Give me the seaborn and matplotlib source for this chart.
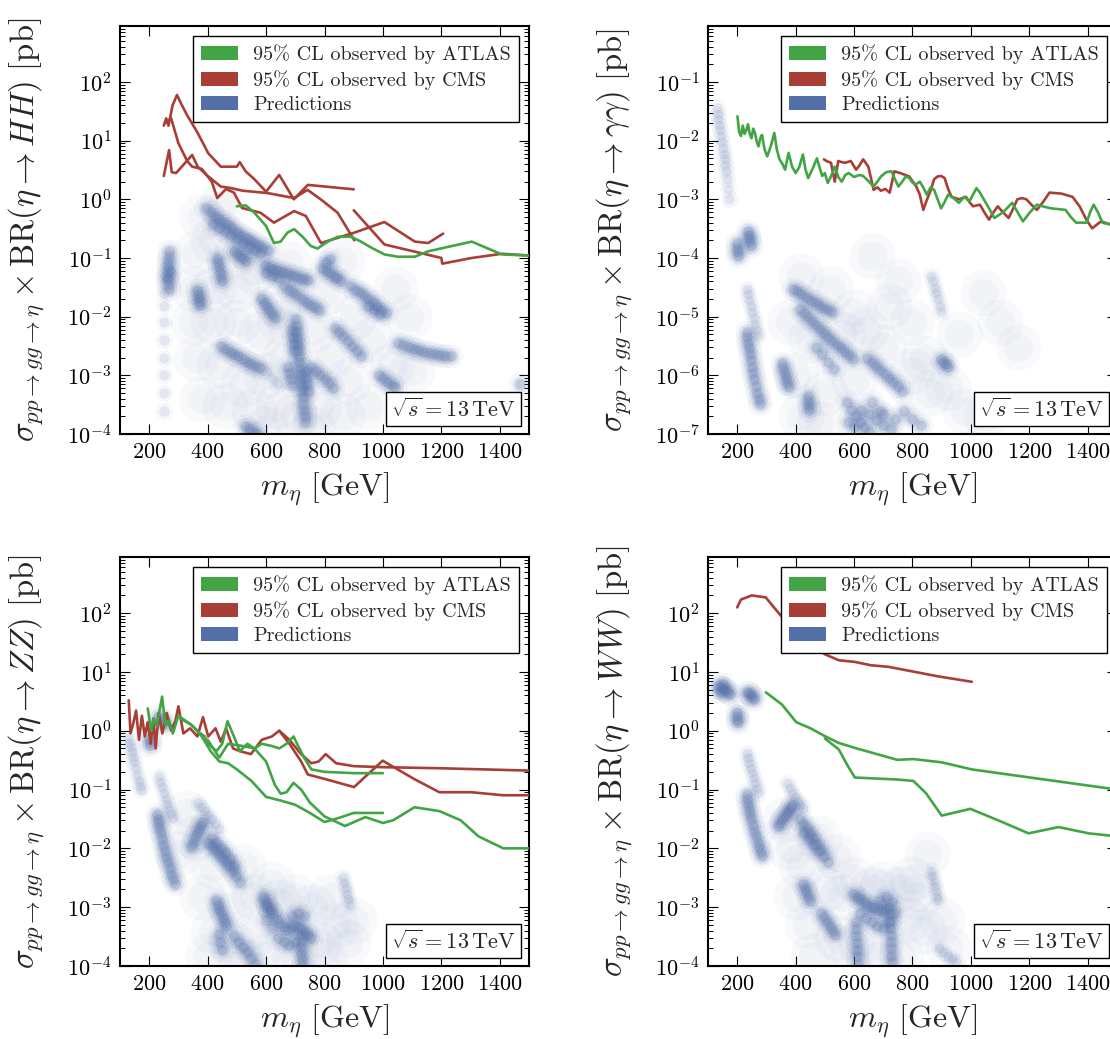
import matplotlib
matplotlib.use("Agg")
import matplotlib.pyplot as plt
import pandas as pd
import seaborn as sns
from matplotlib.patches import Patch
from matplotlib.ticker import LogLocator, NullFormatter, FixedLocator, NullLocator
from matplotlib.offsetbox import AnchoredText

# ---------------------------------------------------------------- observed limits
# 95% CL observed limits, (m_eta [GeV], sigma x BR [pb])
HH_ATLAS = [(500, 0.76), (530, 0.79), (540, 0.72), (560, 0.59), (600, 0.35), (627, 0.18),
            (650, 0.19), (673, 0.27), (696, 0.31), (725, 0.23), (753, 0.16), (776, 0.145),
            (811, 0.19), (845, 0.23), (891, 0.23), (925, 0.19), (960, 0.15), (1005, 0.115),
            (1051, 0.105), (1109, 0.105), (1155, 0.13), (1304, 0.19), (1407, 0.115), (1500, 0.11)]
HH_CMS_A = [(250, 18), (258, 24), (266, 18), (280, 40), (295, 60), (310, 42), (330, 27),
            (366, 13.5), (402, 6.1), (445, 3.6), (500, 3.6), (510, 4.3), (530, 3.0), (560, 2.2),
            (600, 1.35), (645, 2.6), (695, 1.0), (743, 1.76), (900, 1.48)]
HH_CMS_B = [(255, 20), (275, 24), (300, 9), (330, 4.5), (347, 3.6), (380, 3.3), (414, 2.0),
            (433, 1.05), (463, 1.5), (490, 1.3), (518, 0.71), (581, 0.59), (627, 0.40),
            (696, 0.63), (736, 0.52), (788, 0.18), (902, 0.27), (1005, 0.41), (1109, 0.19),
            (1155, 0.18), (1206, 0.26)]
HH_CMS_C = [(250, 2.5), (268, 6.9), (277, 2.9), (292, 2.8), (347, 5.7), (366, 3.6),
            (400, 2.5), (445, 1.65), (478, 1.56), (520, 1.4), (604, 1.28), (696, 1.05),
            (742, 1.45), (788, 0.99), (845, 0.59), (902, 0.2)]
HH_CMS_D = [(900, 0.65), (1005, 0.17), (1200, 0.10), (1203, 0.08), (1304, 0.10),
            (1407, 0.118), (1500, 0.11)]

AA_ATLAS = [(201, 2.6e-2), (207, 1.4e-2), (213, 1.2e-2), (219, 1.8e-2), (225, 1.3e-2),
            (231, 1.5e-2), (237, 1.9e-2), (243, 1.3e-2), (249, 1.1e-2), (255, 1.6e-2),
            (261, 1.35e-2), (267, 9.5e-3), (273, 8e-3), (279, 1.1e-2), (285, 1.25e-2),
            (294, 7e-3), (303, 5.4e-3), (315, 8e-3), (327, 1.35e-2), (336, 7e-3),
            (345, 4.8e-3), (355, 4e-3), (364, 3.2e-3), (370, 4.5e-3), (376, 6.2e-3),
            (388, 3.6e-3), (400, 2.8e-3), (412, 3.5e-3), (425, 5.8e-3), (434, 3.2e-3),
            (443, 2.3e-3), (458, 3.3e-3), (473, 5e-3), (482, 3.5e-3), (491, 2.5e-3),
            (500, 2.8e-3), (510, 1.9e-3), (522, 2.5e-3), (534, 3.6e-3), (546, 2.4e-3),
            (558, 2e-3), (570, 2.6e-3), (582, 2.8e-3), (600, 2.4e-3), (619, 2.6e-3),
            (631, 2.5e-3), (643, 2.2e-3), (655, 1.9e-3), (667, 1.65e-3), (680, 2e-3),
            (692, 2.45e-3), (710, 2.9e-3), (728, 3e-3), (740, 2.2e-3), (752, 1.65e-3),
            (765, 2e-3), (777, 2.45e-3), (789, 2.3e-3), (801, 1.9e-3), (813, 1.8e-3),
            (825, 2e-3), (837, 1.6e-3), (849, 1.2e-3), (862, 1.6e-3), (874, 1.45e-3),
            (886, 1e-3), (898, 7e-4), (910, 9e-4), (922, 1.2e-3), (940, 1.05e-3),
            (959, 8.7e-4), (977, 1.1e-3), (995, 9.3e-4), (1007, 1.2e-3), (1019, 1.55e-3),
            (1031, 1.3e-3), (1044, 1e-3), (1062, 7e-4), (1080, 4.8e-4), (1110, 6e-4),
            (1141, 8.7e-4), (1160, 6e-4), (1178, 4.2e-4), (1202, 6e-4), (1226, 8.1e-4),
            (1250, 7.5e-4), (1275, 7e-4), (1300, 6.8e-4), (1324, 6.6e-4), (1342, 5e-4),
            (1360, 4e-4), (1396, 4e-4), (1408, 6e-4), (1420, 8.1e-4), (1435, 6e-4),
            (1450, 4e-4), (1480, 3.7e-4), (1500, 3.6e-4)]
AA_CMS = [(497, 4.8e-3), (509, 4.4e-3), (521, 4.2e-3), (534, 2e-3), (546, 4.5e-3),
          (558, 4.3e-3), (570, 4.2e-3), (589, 4.5e-3), (607, 3.2e-3), (619, 3.8e-3),
          (631, 4.8e-3), (649, 3.6e-3), (667, 1.45e-3), (680, 1.6e-3), (692, 1.4e-3),
          (707, 1.5e-3), (722, 1.3e-3), (738, 3e-3), (758, 2.8e-3), (789, 2.45e-3),
          (813, 1.65e-3), (825, 1.2e-3), (837, 6.6e-4), (850, 1e-3), (862, 1.4e-3),
          (874, 2.2e-3), (886, 2.45e-3), (898, 2.5e-3), (910, 2.3e-3), (922, 1.5e-3),
          (934, 1.1e-3), (959, 1e-3), (983, 1.1e-3), (995, 9e-4), (1007, 7.6e-4),
          (1031, 8.1e-4), (1046, 6e-4), (1062, 4.5e-4), (1077, 6e-4), (1092, 7.6e-4),
          (1110, 6e-4), (1129, 4.8e-4), (1145, 7e-4), (1159, 1e-3), (1175, 1.05e-3),
          (1190, 1e-3), (1208, 8e-4), (1226, 6.6e-4), (1247, 9e-4), (1269, 1.3e-3),
          (1310, 1.25e-3), (1348, 1.1e-3), (1372, 7.6e-4), (1395, 4.5e-4), (1415, 3.2e-4),
          (1445, 4.2e-4), (1480, 3.7e-4), (1500, 3.5e-4)]

ZZ_ATLAS_A = [(195, 2.4), (207, 1.0), (215, 1.6), (226, 1.2), (244, 3.8), (256, 1.2),
              (268, 1.5), (281, 0.9), (300, 1.8), (317, 1.5), (340, 1.3), (366, 0.98),
              (390, 0.8), (402, 0.6), (430, 0.45), (450, 0.6), (468, 1.45), (490, 0.8),
              (510, 0.45), (536, 0.6), (560, 0.5), (585, 0.6), (620, 0.55), (645, 0.5),
              (670, 0.6), (694, 0.8), (706, 0.6), (730, 0.35), (755, 0.22), (800, 0.2),
              (900, 0.19), (1000, 0.19)]
ZZ_ATLAS_B = [(300, 1.8), (350, 1.2), (380, 0.8), (410, 0.45), (440, 0.3), (470, 0.28),
              (500, 0.22), (550, 0.14), (600, 0.075), (650, 0.065), (700, 0.055),
              (750, 0.04), (800, 0.028), (850, 0.033), (900, 0.04), (1000, 0.04)]
ZZ_ATLAS_C = [(400, 0.7), (440, 0.35), (470, 0.6), (520, 0.55), (560, 0.5), (600, 0.3),
              (630, 0.12), (650, 0.085), (670, 0.09), (694, 0.13), (720, 0.1), (750, 0.06),
              (800, 0.035), (870, 0.024), (940, 0.034), (1000, 0.027), (1035, 0.03),
              (1108, 0.05), (1193, 0.043), (1266, 0.03), (1327, 0.016), (1412, 0.01), (1500, 0.01)]
ZZ_CMS_A = [(130, 3.3), (136, 0.9), (145, 1.3), (155, 2.2), (165, 0.7), (175, 1.8),
            (185, 0.8), (195, 1.4), (205, 0.6), (214, 1.6), (222, 0.5), (232, 2.0),
            (245, 0.9), (260, 2.0), (275, 1.0), (290, 1.5), (300, 2.6), (317, 0.9),
            (340, 1.1), (365, 0.8), (384, 1.7), (402, 0.8), (427, 1.1), (445, 0.65),
            (463, 1.1), (487, 0.5), (510, 0.45), (548, 0.4), (585, 0.7), (620, 0.8),
            (645, 1.0), (680, 0.6), (720, 0.3), (743, 0.18), (804, 0.15), (901, 0.11),
            (999, 0.31), (1108, 0.15), (1193, 0.09), (1302, 0.09), (1412, 0.08), (1500, 0.08)]
ZZ_CMS_B = [(645, 1.0), (680, 0.7), (720, 0.4), (755, 0.28), (780, 0.3), (804, 0.4),
            (840, 0.28), (900, 0.25), (1000, 0.24), (1200, 0.23), (1500, 0.21)]

WW_ATLAS_A = [(298, 4.5), (353, 2.8), (402, 1.4), (451, 1.1), (500, 0.81), (548, 0.62),
              (603, 0.51), (748, 0.32), (803, 0.33), (900, 0.29), (1003, 0.22), (1203, 0.16),
              (1500, 0.1)]
WW_ATLAS_B = [(500, 0.74), (548, 0.48), (579, 0.25), (603, 0.16), (748, 0.148), (803, 0.14),
              (846, 0.087), (900, 0.036), (998, 0.047), (1100, 0.029), (1197, 0.018),
              (1300, 0.023), (1403, 0.018), (1500, 0.016)]
WW_CMS = [(200, 125), (213, 170), (250, 200), (298, 185), (323, 130), (350, 90), (400, 50),
          (450, 30), (500, 20), (548, 15.8), (603, 14.8), (657, 13), (718, 12.2),
          (791, 10.4), (888, 8.4), (1003, 6.8)]

# ---------------------------------------------------------------- model predictions
# dense clusters ("core"), thin faint bands ("light") and the diffuse spread ("haze")
HH_CORE = [(268, 1.3e-1), (267, 1.05e-1), (266, 8.5e-2), (265, 7e-2), (264, 5.5e-2), (265, 4.5e-2),
    (266, 3.6e-2), (267, 3e-2), (260, 4.5e-2), (272, 6e-2),
    (395, 7e-1), (410, 6e-1), (425, 5.2e-1), (440, 4.6e-1), (455, 4.1e-1), (470, 3.6e-1),
    (485, 3.2e-1), (500, 2.8e-1), (515, 2.5e-1), (530, 2.2e-1), (545, 2e-1), (560, 1.8e-1),
    (575, 1.65e-1), (590, 1.5e-1), (605, 1.35e-1), (420, 3.8e-1), (440, 3.3e-1), (460, 2.9e-1),
    (480, 2.5e-1), (500, 2.1e-1), (520, 1.8e-1), (540, 1.55e-1), (560, 1.35e-1), (580, 1.2e-1),
    (490, 1.3e-1), (500, 1.2e-1), (510, 1.1e-1), (520, 1e-1), (530, 9e-2),
    (365, 2.8e-2), (368, 2.4e-2), (370, 2.1e-2), (372, 1.8e-2), (375, 1.6e-2),
    (433, 1e-1), (436, 8.5e-2), (439, 7e-2), (442, 5.8e-2), (446, 4.8e-2), (450, 4e-2),
    (595, 7.5e-2), (610, 7e-2), (625, 6.6e-2), (640, 6.2e-2), (655, 5.8e-2), (670, 5.5e-2),
    (685, 5.2e-2), (700, 4.9e-2), (715, 4.6e-2), (730, 4.4e-2), (745, 4.2e-2), (600, 5.5e-2),
    (620, 5e-2), (640, 4.6e-2),
    (662, 3.3e-2), (677, 2.9e-2), (692, 2.6e-2), (707, 2.3e-2), (722, 2e-2), (737, 1.8e-2),
    (752, 1.6e-2), (767, 1.45e-2), (782, 1.3e-2),
    (583, 2.1e-2), (592, 1.8e-2), (601, 1.5e-2), (610, 1.3e-2), (620, 1.1e-2), (630, 9.5e-3),
    (792, 6.8e-2), (805, 6.1e-2), (818, 5.5e-2), (831, 5e-2), (844, 4.5e-2), (857, 4e-2),
    (805, 8.5e-2), (820, 9.5e-2),
    (890, 3.3e-2), (905, 2.9e-2), (920, 2.6e-2), (935, 2.3e-2), (950, 2e-2), (965, 1.75e-2),
    (980, 1.5e-2), (995, 1.3e-2), (1010, 1.15e-2), (950, 1.5e-2), (970, 1.3e-2), (990, 1.1e-2),
    (1052, 3.6e-3), (1070, 3.3e-3), (1088, 3.05e-3), (1106, 2.85e-3), (1124, 2.65e-3),
    (1142, 2.5e-3), (1160, 2.4e-3), (1178, 2.3e-3), (1196, 2.2e-3), (1214, 2.15e-3), (1232, 2.1e-3),
    (445, 3.1e-3), (460, 2.8e-3), (475, 2.5e-3), (490, 2.3e-3), (505, 2.1e-3), (520, 1.9e-3),
    (535, 1.7e-3), (550, 1.55e-3), (565, 1.45e-3), (580, 1.35e-3),
    (700, 9e-3), (702, 7e-3), (704, 5.5e-3), (706, 4.3e-3), (708, 3.4e-3), (710, 2.7e-3),
    (712, 2.1e-3), (714, 1.7e-3), (716, 1.35e-3), (718, 1.05e-3), (720, 8.5e-4), (722, 6.7e-4),
    (724, 5.3e-4), (726, 4.2e-4), (728, 3.3e-4), (730, 2.6e-4), (732, 2e-4), (734, 1.6e-4),
    (690, 6e-3), (692, 4.5e-3), (694, 3.4e-3), (696, 2.6e-3), (735, 1.2e-3), (738, 9e-4),
    (741, 7e-4), (744, 5.5e-4), (674, 1.4e-3), (679, 1.1e-3), (684, 8.5e-4), (689, 6.8e-4),
    (755, 1.4e-3), (770, 1.2e-3), (785, 1.02e-3), (800, 8.7e-4), (815, 7.3e-4), (830, 6e-4),
    (835, 6.3e-3), (850, 5.4e-3), (865, 4.6e-3), (880, 3.9e-3), (895, 3.2e-3), (910, 2.6e-3),
    (924, 2.1e-3), (985, 1e-3), (1000, 9e-4), (1015, 7.8e-4), (1030, 6.8e-4), (1040, 6.2e-4),
    (528, 1.35e-4), (540, 1.2e-4), (555, 1.1e-4), (568, 1.05e-4), (1470, 7e-4)]
HH_LIGHT = [(252, 2.5e-2), (252, 1.5e-2), (252, 8e-3), (252, 4e-3), (252, 2e-3), (252, 1e-3),
    (252, 5e-4), (252, 2.5e-4), (600, 1.2e-3), (620, 9e-4), (640, 7e-4)]
HH_HAZE = [(380, 5e-1), (450, 8e-1), (360, 1.2e-1), (420, 2e-1), (500, 1.2e-1), (350, 3e-2),
    (420, 3e-2), (500, 3e-2), (560, 6e-2), (640, 1.5e-2), (680, 8e-2), (350, 8e-3), (420, 8e-3),
    (500, 8e-3), (580, 5e-3), (650, 8e-3), (760, 6e-3), (800, 2.5e-2), (860, 9e-2), (900, 1e-2),
    (960, 4e-3), (1040, 3e-2), (1090, 1e-2), (360, 2e-3), (440, 1.5e-3), (520, 7e-4), (600, 1e-3),
    (660, 2e-3), (780, 3e-4), (820, 2e-3), (880, 8e-4), (950, 3e-4), (1030, 1.5e-3), (1100, 1.2e-3),
    (380, 4e-4), (460, 3e-4), (560, 2.5e-4), (640, 3e-4), (700, 2e-4), (860, 2e-4), (600, 1.2e-4),
    (760, 1.2e-4)]

AA_CORE = [(238, 2.9e-4), (240, 2.5e-4), (242, 2.2e-4), (245, 1.9e-4), (248, 1.6e-4),
    (200, 1.8e-4), (201, 1.5e-4), (202, 1.25e-4), (203, 1.08e-4),
    (233, 5.5e-6), (235, 4.5e-6), (237, 3.6e-6), (240, 2.9e-6), (243, 2.3e-6), (246, 1.8e-6),
    (250, 1.4e-6), (254, 1.1e-6), (258, 8.5e-7), (263, 6.5e-7), (268, 5e-7), (273, 4e-7), (278, 3.2e-7),
    (352, 1.6e-6), (357, 1.35e-6), (362, 1.1e-6), (367, 9e-7), (372, 7.5e-7), (378, 6.2e-7),
    (441, 4.4e-7), (443, 3.6e-7), (445, 3e-7), (447, 2.6e-7),
    (390, 3e-5), (405, 2.7e-5), (420, 2.4e-5), (435, 2.15e-5), (450, 1.95e-5), (465, 1.75e-5),
    (480, 1.55e-5), (495, 1.4e-5), (510, 1.3e-5), (523, 1.22e-5),
    (414, 1.35e-5), (428, 1.15e-5), (442, 9.8e-6), (456, 8.4e-6), (470, 7.2e-6), (484, 6.2e-6),
    (498, 5.3e-6), (512, 4.5e-6), (526, 3.9e-6), (540, 3.3e-6), (554, 2.9e-6), (568, 2.5e-6),
    (582, 2.2e-6), (596, 1.9e-6),
    (645, 2e-6), (660, 1.7e-6), (675, 1.45e-6), (690, 1.25e-6), (705, 1.05e-6), (720, 9e-7),
    (735, 7.7e-7), (750, 6.5e-7), (765, 5.5e-7),
    (470, 3e-6), (490, 2.3e-6), (510, 1.7e-6), (530, 1.3e-6),
    (575, 3.5e-7), (590, 2.6e-7), (605, 2e-7), (620, 1.6e-7), (635, 1.3e-7), (650, 1.1e-7),
    (600, 1.3e-7), (625, 2.6e-7), (650, 2.2e-7), (675, 1.7e-7), (700, 1.4e-7), (725, 1.2e-7),
    (660, 3.5e-7), (690, 2.5e-7), (580, 1.6e-7), (700, 2.2e-7), (740, 1.8e-7), (770, 2.5e-7),
    (800, 1.8e-7), (830, 1.4e-7), (898, 1.9e-6), (906, 1.7e-6), (914, 1.55e-6), (922, 1.4e-6)]
AA_LIGHT = [(130, 3.6e-2), (133, 2.9e-2), (136, 2.3e-2), (139, 1.85e-2), (142, 1.5e-2), (145, 1.2e-2),
    (148, 9.5e-3), (151, 7.5e-3), (154, 6e-3), (157, 4.8e-3), (160, 3.8e-3), (163, 3e-3),
    (166, 2.2e-3), (169, 1.5e-3), (171, 1e-3),
    (232, 3e-5), (237, 2.4e-5), (242, 1.9e-5), (247, 1.5e-5), (252, 1.2e-5), (257, 9.5e-6),
    (262, 7.5e-6), (267, 6e-6), (272, 4.6e-6),
    (865, 5e-5), (870, 4e-5), (876, 3.1e-5), (882, 2.5e-5), (888, 2e-5), (894, 1.5e-5), (899, 1.2e-5)]
AA_HAZE = [(420, 5e-5), (380, 8e-6), (450, 4e-6), (400, 1e-6), (420, 2e-7), (500, 5e-7), (560, 5e-6),
    (600, 1.2e-5), (520, 3e-5), (640, 6e-6), (600, 8e-7), (700, 3e-6), (720, 1.5e-5), (750, 4e-5),
    (660, 1.1e-4), (800, 8e-6), (840, 2e-6), (860, 5e-7), (920, 6e-7), (980, 2.5e-7), (1050, 2e-7),
    (1040, 2.5e-5), (1100, 8e-6), (1160, 3e-6), (960, 5e-6), (480, 1.5e-7), (800, 1.2e-6)]

ZZ_CORE = [(200, 7.5e-1), (202, 6.5e-1), (204, 5.8e-1), (230, 1.7), (238, 1.6), (246, 1.45), (254, 1.3),
    (227, 3.8e-2), (229, 3.2e-2), (232, 2.7e-2), (235, 2.2e-2), (239, 1.8e-2), (243, 1.45e-2),
    (248, 1.15e-2), (253, 9e-3), (258, 7.2e-3), (264, 5.8e-3), (270, 4.6e-3), (276, 3.7e-3),
    (282, 3e-3), (287, 2.5e-3),
    (343, 1.05e-2), (350, 1.25e-2), (357, 1.5e-2), (364, 1.8e-2), (371, 2.1e-2), (378, 2.45e-2), (384, 2.8e-2),
    (402, 1.25e-2), (414, 1.08e-2), (426, 9.3e-3), (438, 8e-3), (450, 6.9e-3), (462, 5.9e-3),
    (474, 5e-3), (486, 4.2e-3), (498, 3.4e-3), (510, 2.7e-3), (415, 1.5e-2), (430, 1.25e-2),
    (445, 1e-2), (460, 8.5e-3), (475, 6.5e-3), (490, 5e-3),
    (428, 1.3e-3), (434, 1.1e-3), (440, 9.3e-4), (446, 7.8e-4), (452, 6.6e-4), (458, 5.6e-4),
    (463, 4.8e-4), (440, 3.5e-4), (444, 2.6e-4), (448, 1.9e-4),
    (600, 1.1e-3), (612, 9e-4), (624, 7.5e-4), (636, 6.3e-4), (648, 5.3e-4), (660, 4.6e-4),
    (672, 4.1e-4), (684, 4.4e-4), (696, 5e-4), (708, 4.8e-4), (720, 4.3e-4), (732, 3.8e-4),
    (744, 3.4e-4), (755, 3e-4), (640, 3e-4), (660, 2.6e-4), (680, 2.3e-4), (700, 2.6e-4),
    (690, 7e-4), (710, 8e-4), (730, 7e-4), (620, 4.5e-4), (600, 6e-4),
    (718, 3.3e-4), (719, 2.6e-4), (720, 2e-4), (721, 1.6e-4), (722, 1.3e-4), (723, 1.05e-4),
    (490, 3.2e-4), (505, 2.6e-4), (520, 2.1e-4), (535, 1.7e-4), (550, 1.35e-4), (562, 1.1e-4),
    (588, 1.55e-3), (596, 1.3e-3), (604, 1.1e-3), (612, 9e-4)]
ZZ_LIGHT = [(129, 7.5e-1), (132, 6.3e-1), (136, 5.3e-1), (140, 4.4e-1), (144, 3.6e-1), (149, 2.9e-1),
    (154, 2.3e-1), (159, 1.8e-1), (164, 1.4e-1), (168, 1.15e-1), (171, 1e-1),
    (232, 1.7e-1), (238, 1.35e-1), (244, 1.1e-1), (250, 8.8e-2), (256, 7e-2), (262, 5.7e-2),
    (268, 4.6e-2), (274, 3.8e-2), (280, 3.3e-2),
    (366, 5.8e-2), (378, 5e-2), (390, 4.3e-2), (402, 3.7e-2), (414, 3.1e-2), (426, 2.6e-2), (438, 2.1e-2),
    (862, 3.2e-3), (867, 2.6e-3), (872, 2.1e-3), (877, 1.7e-3), (882, 1.4e-3), (888, 1.1e-3)]
ZZ_HAZE = [(360, 1.5e-2), (420, 5e-3), (380, 1.5e-3), (420, 4e-4), (400, 1.5e-4), (480, 1e-3),
    (520, 5e-3), (560, 1.5e-3), (560, 3.5e-4), (620, 2.5e-3), (640, 1.2e-3), (600, 1.5e-4),
    (700, 1.5e-3), (700, 1.5e-4), (760, 1e-3), (780, 2.5e-4), (820, 1.5e-3), (840, 5e-4),
    (880, 2.5e-4), (800, 1.2e-4), (900, 6e-4), (480, 2.5e-4), (520, 1.2e-4), (300, 8e-3), (330, 4e-2)]

WW_CORE = [(136, 5.8), (144, 5.5), (152, 5.2), (160, 5), (168, 4.6), (175, 4.2), (150, 6.3), (140, 4.6),
    (234, 4.6), (240, 4.3), (246, 4), (252, 3.7), (256, 3.5), (199, 2.1), (200, 1.8), (201, 1.55), (202, 1.4),
    (233, 8.5e-2), (235, 7e-2), (238, 5.7e-2), (241, 4.7e-2), (245, 3.8e-2), (249, 3.1e-2),
    (254, 2.5e-2), (259, 2e-2), (264, 1.6e-2), (270, 1.3e-2), (276, 1.05e-2), (282, 8.5e-3), (286, 7.3e-3),
    (341, 2.4e-2), (348, 2.75e-2), (355, 3.1e-2), (362, 3.5e-2), (369, 4e-2), (376, 4.5e-2),
    (383, 5e-2), (389, 5.4e-2),
    (414, 3.1e-2), (426, 2.6e-2), (438, 2.2e-2), (450, 1.8e-2), (462, 1.5e-2), (474, 1.2e-2),
    (486, 9.5e-3), (498, 7.5e-3), (510, 5.8e-3), (430, 1.8e-2), (445, 1.5e-2), (460, 1.2e-2), (475, 9e-3),
    (427, 2.5e-3), (432, 2.1e-3), (437, 1.8e-3), (442, 1.5e-3), (448, 1.25e-3),
    (598, 1.7e-3), (610, 1.5e-3), (622, 1.35e-3), (634, 1.2e-3), (646, 1.1e-3), (658, 1.02e-3),
    (670, 9.5e-4), (682, 9e-4), (694, 8.6e-4), (706, 9e-4), (718, 1e-3), (730, 1.2e-3), (740, 8e-4),
    (620, 8e-4), (640, 6.5e-4), (660, 5.5e-4), (680, 4.8e-4), (700, 4.5e-4), (720, 5.5e-4),
    (690, 1.3e-3), (710, 1.5e-3),
    (606, 5.5e-4), (607, 4.2e-4), (608, 3.2e-4), (609, 2.5e-4), (610, 1.9e-4), (611, 1.45e-4), (612, 1.1e-4),
    (722, 7.5e-4), (723, 5.8e-4), (724, 4.4e-4), (725, 3.4e-4), (726, 2.6e-4), (727, 2e-4),
    (728, 1.5e-4), (729, 1.15e-4),
    (488, 8e-4), (498, 6.8e-4), (508, 5.7e-4), (518, 4.8e-4), (528, 3.9e-4), (536, 3.3e-4)]
WW_LIGHT = [(232, 4.2e-1), (237, 3.4e-1), (242, 2.8e-1), (247, 2.3e-1), (252, 1.9e-1), (257, 1.55e-1),
    (262, 1.3e-1), (267, 1.05e-1), (272, 8.8e-2),
    (371, 1.3e-1), (380, 1.05e-1), (389, 8.8e-2), (398, 7.4e-2), (407, 6.3e-2), (416, 5.5e-2), (425, 4.9e-2),
    (864, 4.2e-3), (868, 3.4e-3), (872, 2.8e-3), (876, 2.3e-3), (880, 1.9e-3), (884, 1.5e-3), (887, 1.3e-3),
    (890, 2e-4), (905, 1.7e-4), (920, 1.5e-4), (935, 1.3e-4), (950, 1.15e-4)]
WW_HAZE = [(380, 1e-2), (420, 5e-3), (400, 1.5e-3), (440, 5e-4), (460, 1.5e-4), (500, 2e-3), (540, 7e-3),
    (560, 1.5e-3), (540, 3e-4), (600, 3e-3), (620, 2.5e-4), (660, 2e-3), (700, 2.5e-3), (680, 1.5e-4),
    (760, 2e-3), (780, 6e-4), (760, 1.5e-4), (820, 1.5e-3), (840, 4e-4), (900, 6e-4), (920, 2e-4),
    (360, 3e-2), (480, 1.5e-2), (580, 1e-4), (800, 3e-3), (850, 8e-3)]

X_TICKS = [200, 400, 600, 800, 1000, 1200, 1400]
LEGEND_LABELS = ["95% CL observed by ATLAS", "95% CL observed by CMS", "Predictions"]

PANELS = [
    dict(channel=r"HH", atlas=[HH_ATLAS], cms=[HH_CMS_A, HH_CMS_B, HH_CMS_C, HH_CMS_D],
         core=HH_CORE, light=HH_LIGHT, haze=HH_HAZE, ylim=(1e-4, 9e2)),
    dict(channel=r"\gamma\gamma", atlas=[AA_ATLAS], cms=[AA_CMS],
         core=AA_CORE, light=AA_LIGHT, haze=AA_HAZE, ylim=(1e-7, 9e-1)),
    dict(channel=r"ZZ", atlas=[ZZ_ATLAS_A, ZZ_ATLAS_B, ZZ_ATLAS_C], cms=[ZZ_CMS_A, ZZ_CMS_B],
         core=ZZ_CORE, light=ZZ_LIGHT, haze=ZZ_HAZE, ylim=(1e-4, 9e2)),
    dict(channel=r"WW", atlas=[WW_ATLAS_A, WW_ATLAS_B], cms=[WW_CMS],
         core=WW_CORE, light=WW_LIGHT, haze=WW_HAZE, ylim=(1e-4, 9e2)),
]

# ---------------------------------------------------------------- style
GREEN, RED, BLUE = "#42a545", "#a83e36", "#526fa8"
# soft-edged markers: each tier is drawn as stacked (size, alpha) layers
TIERS = {
    "haze": [(1100, 0.04), (450, 0.04)],
    "light": [(150, 0.05), (55, 0.12)],
    "core": [(300, 0.05), (140, 0.11), (60, 0.24)],
}

sns.set_theme(style="ticks")
plt.rcParams.update({
    "font.family": "serif",
    "font.serif": ["cmr10", "DejaVu Serif"],
    "mathtext.fontset": "cm",
    "axes.formatter.use_mathtext": True,
    "axes.unicode_minus": False,
    "axes.edgecolor": "black",
    "axes.linewidth": 1.5,
    "xtick.color": "black",
    "ytick.color": "black",
})

fig = plt.figure(figsize=(11.1, 10.39), dpi=100)
positions = [
    [0.1081, 0.5823, 0.3685, 0.3927],
    [0.6378, 0.5823, 0.3685, 0.3927],
    [0.1081, 0.0703, 0.3685, 0.3936],
    [0.6378, 0.0703, 0.3685, 0.3936],
]


def curves_frame(curves):
    rows = []
    for i, curve in enumerate(curves):
        for m, xs in curve:
            rows.append({"curve": i, "m": m, "xs": xs})
    return pd.DataFrame(rows)


for panel, pos in zip(PANELS, positions):
    ax = fig.add_axes(pos)
    ax.set_yscale("log")

    z = 1.0
    for tier in ("haze", "light", "core"):
        pts = pd.DataFrame(panel[tier], columns=["m", "xs"])
        for size, alpha in TIERS[tier]:
            sns.scatterplot(data=pts, x="m", y="xs", ax=ax, color=BLUE, s=size, alpha=alpha,
                            linewidth=0, legend=False, zorder=z)
            z += 0.1

    sns.lineplot(data=curves_frame(panel["cms"]), x="m", y="xs", units="curve",
                 estimator=None, sort=False, color=RED, lw=1.9, ax=ax, zorder=3)
    sns.lineplot(data=curves_frame(panel["atlas"]), x="m", y="xs", units="curve",
                 estimator=None, sort=False, color=GREEN, lw=1.9, ax=ax, zorder=4)

    ax.set_xlim(100, 1500)
    ax.set_ylim(*panel["ylim"])
    ax.xaxis.set_major_locator(FixedLocator(X_TICKS))
    ax.xaxis.set_minor_locator(NullLocator())
    ax.yaxis.set_major_locator(LogLocator(base=10, numticks=20))
    ax.yaxis.set_minor_locator(LogLocator(base=10, subs=range(2, 10), numticks=20))
    ax.yaxis.set_minor_formatter(NullFormatter())
    ax.tick_params(which="both", direction="in", top=True, right=True, labelsize=16,
                   color="black", labelcolor="black")
    ax.tick_params(which="major", length=7.2, width=0.8, pad=6)
    ax.tick_params(which="minor", length=3.6, width=0.7)
    for sp in ax.spines.values():
        sp.set_linewidth(1.5)
        sp.set_color("black")

    ax.set_xlabel(r"$m_\eta\ [\mathrm{GeV}]$", fontsize=23)
    ax.set_ylabel(r"$\sigma_{pp\to gg\to\eta}\times\mathrm{BR}(\eta\to "
                  + panel["channel"] + r")\ [\mathrm{pb}]$", fontsize=23.5)
    ax.xaxis.set_label_coords(0.5, -0.09)
    ax.yaxis.set_label_coords(-0.178, 0.5)

    handles = [Patch(facecolor=GREEN, edgecolor="none"), Patch(facecolor=RED, edgecolor="none"),
               Patch(facecolor=BLUE, edgecolor="none")]
    leg = ax.legend(handles, LEGEND_LABELS, loc="upper right", fontsize=14.5, frameon=True,
                    fancybox=False, framealpha=1, edgecolor="black", borderaxespad=0.5,
                    handlelength=1.85, handleheight=0.7, handletextpad=0.75,
                    labelspacing=0.3, borderpad=0.4)
    leg.get_frame().set_linewidth(1.0)
    leg.set_zorder(10)

    at = AnchoredText(r"$\sqrt{s}=13\,\mathrm{TeV}$", loc="lower right", prop=dict(size=16),
                      frameon=True, borderpad=0.35, pad=0.25)
    at.patch.set_boxstyle("square,pad=0")
    at.patch.set_edgecolor("black")
    at.patch.set_linewidth(1.0)
    at.set_zorder(10)
    ax.add_artist(at)

fig.savefig("out.png", dpi=100)
